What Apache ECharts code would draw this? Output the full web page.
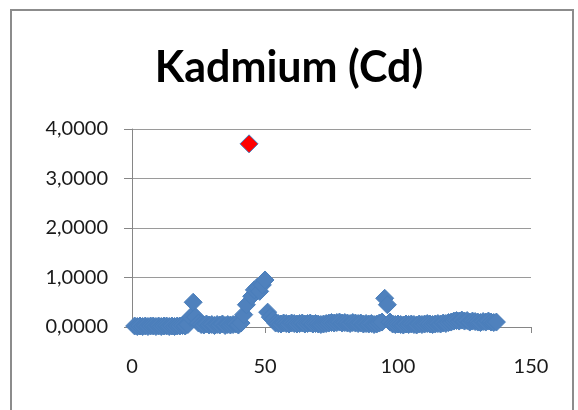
<!DOCTYPE html>
<html>
<head>
<meta charset="utf-8">
<script src="https://cdn.jsdelivr.net/npm/echarts@6/dist/echarts.min.js"></script>
<style>
  html, body { margin: 0; padding: 0; background: #fff; }
  #chart { width: 578px; height: 410px; }
</style>
</head>
<body>
<div id="chart"></div>
<script>
// Cd-Werte je Probe (Probe 1..137), Probe 44 ist der Ausreisser
const cdValues = [
  0.02, 0.01, 0.02, 0.01, 0.02, 0.01, 0.02, 0.02, 0.01, 0.02,
  0.01, 0.02, 0.02, 0.01, 0.02, 0.01, 0.02, 0.02, 0.03, 0.02,
  0.05, 0.2, 0.5, 0.2, 0.08, 0.05, 0.04, 0.06, 0.04, 0.05,
  0.03, 0.05, 0.04, 0.06, 0.03, 0.05, 0.04, 0.05, 0.06, 0.04,
  0.08, 0.25, 0.45, null, 0.62, 0.75, 0.8, 0.72, 0.85, 0.95,
  0.3, 0.2, 0.15, 0.08, 0.07, 0.06, 0.08, 0.07, 0.06, 0.08,
  0.07, 0.06, 0.07, 0.08, 0.06, 0.07, 0.08, 0.06, 0.07, 0.06,
  0.05, 0.06, 0.07, 0.08, 0.09, 0.08, 0.09, 0.1, 0.08, 0.09,
  0.08, 0.07, 0.09, 0.08, 0.07, 0.08, 0.06, 0.07, 0.06, 0.07,
  0.05, 0.06, 0.08, 0.1, 0.58, 0.45, 0.1, 0.06, 0.05, 0.06,
  0.05, 0.04, 0.06, 0.05, 0.06, 0.05, 0.04, 0.06, 0.05, 0.06,
  0.07, 0.06, 0.05, 0.06, 0.07, 0.06, 0.08, 0.07, 0.09, 0.1,
  0.12, 0.13, 0.12, 0.14, 0.12, 0.13, 0.1, 0.12, 0.11, 0.1,
  0.09, 0.11, 0.1, 0.12, 0.1, 0.09, 0.1
];
const outlier = [[44, 3.7]];
const xTicks = [0, 50, 100, 150];
const yTicks = [0, 1, 2, 3, 4];

const blueData = cdValues.map((v, i) => [i + 1, v]).filter(p => p[1] !== null);

let chart = echarts.init(document.getElementById('chart'));
let option = {
  backgroundColor: '#fff',
  animation: false,
  title: {
    text: 'Kadmium (Cd)',
    left: 'center',
    top: 42,
    textStyle: {
      fontFamily: 'Lato',
      fontSize: 43,
      fontWeight: 'bold',
      color: '#000'
    }
  },
  // Rahmen um das Diagramm
  graphic: [{
    type: 'rect',
    shape: { x: 11, y: 10, width: 562, height: 420 },
    style: { fill: 'none', stroke: '#8c8c8c', lineWidth: 2 },
    silent: true
  }],
  grid: { left: 132, right: 47, top: 129, bottom: 83 },
  xAxis: {
    type: 'value',
    min: xTicks[0],
    max: xTicks[xTicks.length - 1],
    interval: 50,
    splitLine: { show: false },
    axisLine: { lineStyle: { color: '#868686' } },
    axisTick: { show: true, length: 6, lineStyle: { color: '#868686' } },
    axisLabel: { fontFamily: 'Lato', fontSize: 20, color: '#1a1a1a', margin: 30 }
  },
  yAxis: {
    type: 'value',
    min: yTicks[0],
    max: yTicks[yTicks.length - 1],
    interval: 1,
    splitLine: { lineStyle: { color: '#9a9a9a' } },
    axisLine: { show: true, lineStyle: { color: '#868686' } },
    axisTick: { show: true, length: 8, lineStyle: { color: '#868686' } },
    axisLabel: {
      fontFamily: 'Lato', fontSize: 20, color: '#1a1a1a', margin: 24,
      formatter: v => v.toFixed(4).replace('.', ',')
    }
  },
  series: [
    {
      type: 'scatter',
      data: blueData,
      symbol: 'diamond',
      symbolSize: 18,
      itemStyle: { color: '#4f81bd', borderColor: '#4a7ebb', borderWidth: 1, opacity: 1 }
    },
    {
      type: 'scatter',
      data: outlier,
      symbol: 'diamond',
      symbolSize: 18,
      itemStyle: { color: '#ff0000', borderColor: '#4a7ebb', borderWidth: 1, opacity: 1 }
    }
  ]
};
chart.setOption(option);
</script>
</body>
</html>
